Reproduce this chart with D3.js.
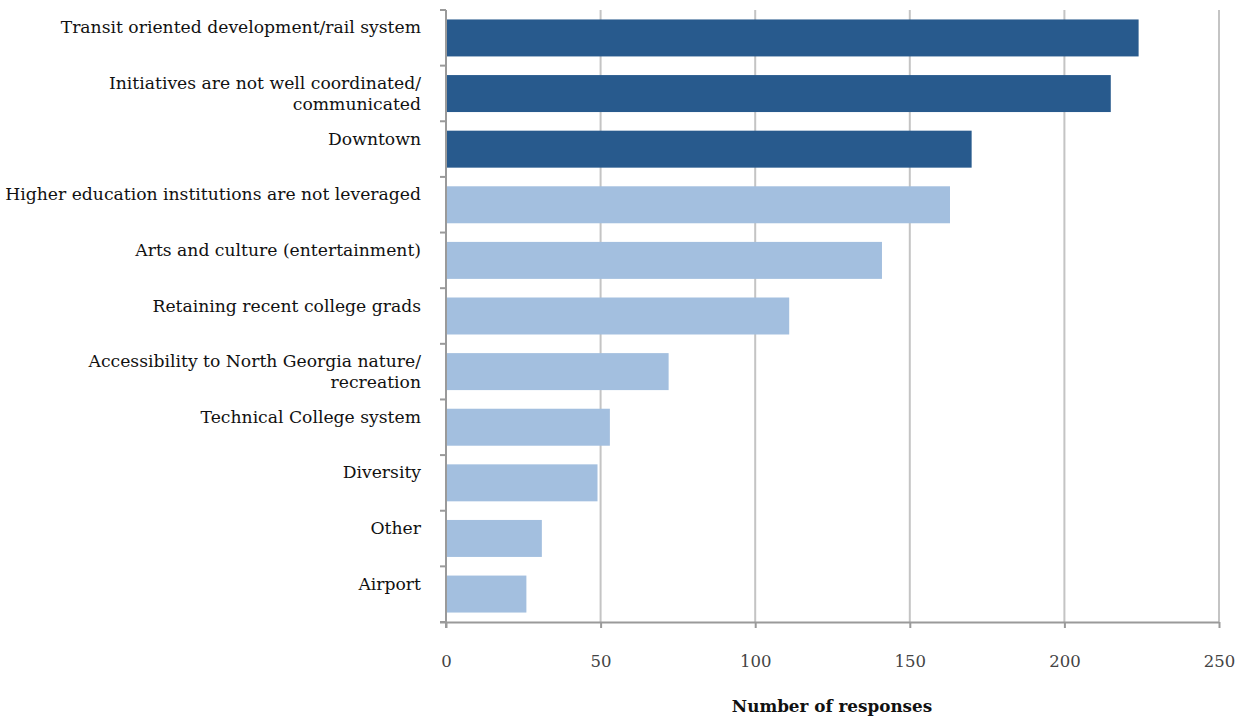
<!DOCTYPE html>
<html><head><meta charset="utf-8">
<script src="https://cdn.jsdelivr.net/npm/d3@7"></script>
<style>body{margin:0;background:#fff}svg{display:block}</style>
</head><body>
<svg id="chart" width="1247" height="717"></svg>
<script>
const categories = [
  ["Transit oriented development/rail system"],
  ["Initiatives are not well coordinated/", "communicated"],
  ["Downtown"],
  ["Higher education institutions are not leveraged"],
  ["Arts and culture (entertainment)"],
  ["Retaining recent college grads"],
  ["Accessibility to North Georgia nature/", "recreation"],
  ["Technical College system "],
  ["Diversity"],
  ["Other"],
  ["Airport "]
];
const values = [224, 215, 170, 163, 141, 111, 72, 53, 49, 31, 26];
const highlighted = [true, true, true, false, false, false, false, false, false, false, false];
const xTicks = [0, 50, 100, 150, 200, 250];
const xTitle = "Number of responses";

(function () {
const svg = d3.select("#chart");
const pL = 446, pR = 1219, pT = 10, pB = 622;
const x = d3.scaleLinear().domain([0, 250]).range([pL, pR]);
const y = d3.scaleBand().domain(d3.range(categories.length)).range([pT, pB]).paddingInner(0.335).paddingOuter(0.17);
const band = d3.scaleBand().domain(d3.range(categories.length)).range([pT, pB]);

const font = "'DejaVu Serif', 'Liberation Serif', serif";

// gridlines
svg.append("g").selectAll("line").data(xTicks.filter(d => d > 0)).join("line")
  .attr("x1", d => x(d)).attr("x2", d => x(d))
  .attr("y1", pT).attr("y2", pB)
  .attr("stroke", "#c4c4c4").attr("stroke-width", 2);

// bars
svg.append("g").selectAll("rect").data(values).join("rect")
  .attr("x", x(0)).attr("y", (d, i) => y(i))
  .attr("width", d => x(d) - x(0)).attr("height", y.bandwidth())
  .attr("fill", (d, i) => highlighted[i] ? "#285a8d" : "#a3bfdf");

// x axis
const xAxis = svg.append("g").attr("transform", `translate(0,${pB})`)
  .call(d3.axisBottom(x).tickValues(xTicks).tickSize(6).tickPadding(27));
xAxis.select(".domain").attr("stroke", "#9a9a9a").attr("stroke-width", 2).attr("d", `M${pL - 6},0.5H${pR}`);
xAxis.selectAll(".tick line").attr("stroke", "#9a9a9a").attr("stroke-width", 2);
xAxis.selectAll(".tick text").attr("font-family", font).attr("font-size", 16.5).attr("fill", "#444");

// y axis
const yg = svg.append("g");
yg.append("line").attr("x1", pL).attr("x2", pL).attr("y1", pT).attr("y2", pB + 6)
  .attr("stroke", "#9a9a9a").attr("stroke-width", 2);
const bounds = d3.range(categories.length + 1).map(i => pT + i * band.step());
yg.selectAll("line.t").data(bounds).join("line").attr("class", "t")
  .attr("x1", pL - 6).attr("x2", pL).attr("y1", d => d).attr("y2", d => d)
  .attr("stroke", "#9a9a9a").attr("stroke-width", 2);

// category labels
const lab = svg.append("g").attr("font-family", font).attr("font-size", 17.2).attr("fill", "#111").attr("text-anchor", "end");
categories.forEach((lines, i) => {
  const c = band(i) + band.step() / 2;
  lines.forEach((t, j) => {
    lab.append("text").attr("x", 421).attr("y", c - 10.5 + j * 21).attr("dy", "0.35em").text(t);
  });
});

// x title
svg.append("text").attr("x", 832).attr("y", 712).attr("text-anchor", "middle")
  .attr("font-family", font).attr("font-size", 16.8).attr("font-weight", "bold").attr("fill", "#111").text(xTitle);
})();
</script>
</body></html>
